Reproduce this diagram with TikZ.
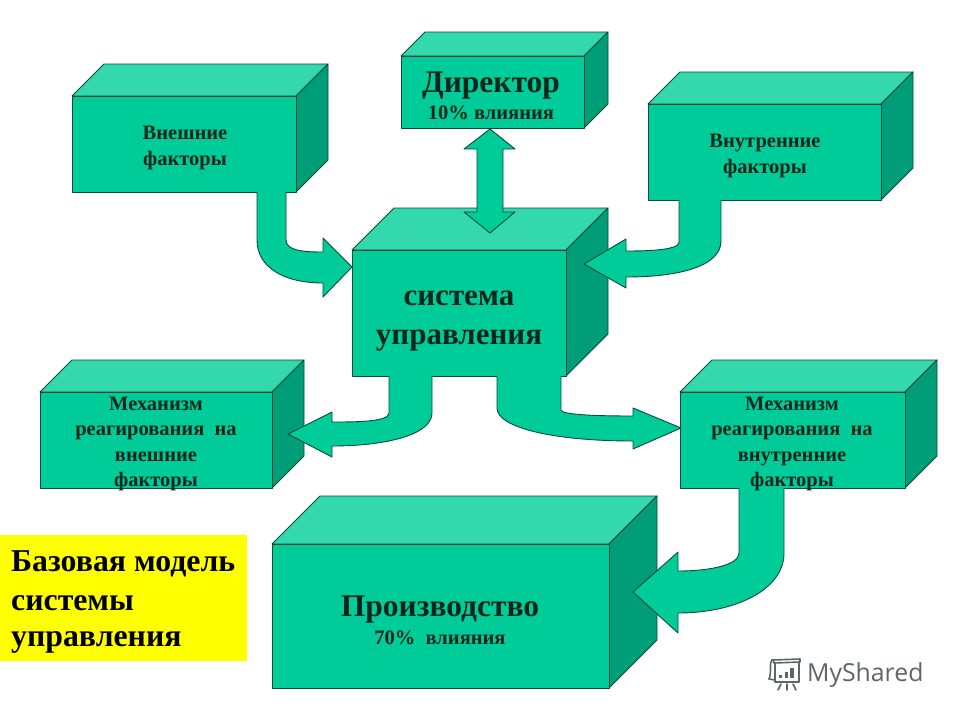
\documentclass[tikz,border=0pt]{standalone}
\usepackage{fontspec}
\setmainfont{Liberation Serif}
\newfontfamily\wmfont{Open Sans}
\definecolor{frontc}{HTML}{00CC99}
\definecolor{topc}{HTML}{33D9AD}
\definecolor{sidec}{HTML}{009E78}
\definecolor{edgec}{HTML}{0B4A3A}
\definecolor{wmc}{HTML}{5F6663}
\definecolor{panelc}{HTML}{FFFF00}
\definecolor{inkc}{HTML}{03261D}
\tikzset{
  faceline/.style={draw=edgec,line width=0.9pt,line join=round},
  frontface/.style={faceline,fill=frontc},
  topface/.style={faceline,fill=topc},
  sideface/.style={faceline,fill=sidec},
  blockarrow/.style={faceline,fill=frontc},
  small/.style={font=\fontsize{20.5}{25.6}\selectfont\bfseries,align=center,text=inkc,inner sep=0pt},
  big/.style={font=\fontsize{31.5}{39}\selectfont\bfseries,align=center,text=inkc,inner sep=0pt},
  caption/.style={font=\fontsize{31.8}{39}\selectfont\bfseries,align=left,text=black,inner sep=0pt,anchor=west},
  wmline/.style={draw=wmc,line width=1.6pt,line cap=round,line join=round},
}
% name, x0, y0, x1, y1, depth
\newcommand{\cuboid}[6]{%
  \fill[topface] (#2,#3) -- (#2+#6,#3-#6) -- (#4+#6,#3-#6) -- (#4,#3) -- cycle;
  \fill[sideface] (#4,#3) -- (#4+#6,#3-#6) -- (#4+#6,#5-#6) -- (#4,#5) -- cycle;
  \draw[frontface] (#2,#3) rectangle (#4,#5);
  \coordinate (#1) at ({(#2+#4)/2},{(#3+#5)/2});
}
\begin{document}
\begin{tikzpicture}[x=1pt,y=-1pt]
\useasboundingbox (0,0) rectangle (960,720);
\fill[white] (0,0) rectangle (960,720);

\cuboid{director}{401}{56}{584}{128}{24}
\cuboid{external}{72}{96}{296}{192}{32}
\cuboid{internal}{648}{104}{881}{200}{32}
\cuboid{system}{352}{250}{566}{376}{42}
\cuboid{mechleft}{40}{392}{272}{488}{32}
\cuboid{mechright}{680}{392}{905}{488}{32}
\cuboid{production}{272}{544}{609}{688}{48}

% block arrows
\draw[blockarrow] (257,192) -- (257,240) .. controls (257,268) and (285,283) .. (323,283)
  -- (323,297) -- (352,267) -- (323,238) -- (323,252)
  .. controls (305,252) and (286,251) .. (286,240) -- (286,192);
\draw[blockarrow] (490,129) -- (515,149) -- (503,149) -- (503,212) -- (515,212) -- (490,233)
  -- (464,212) -- (477,212) -- (477,149) -- (464,149) -- cycle;
\draw[blockarrow] (721,200) -- (721,241) .. controls (721,266) and (680,277) .. (626,277)
  -- (626,288) -- (584,264) -- (626,239) -- (626,251)
  .. controls (650,251) and (679,250) .. (679,242) -- (679,200);
\draw[blockarrow] (432,376) -- (432,413) .. controls (432,435) and (385,446) .. (332,446)
  -- (332,457) -- (288,434) -- (332,412) -- (332,422)
  .. controls (355,422) and (389,422) .. (389,413) -- (389,376);
\draw[blockarrow] (497,376) -- (497,408) .. controls (497,428) and (555,441) .. (633,441)
  -- (633,449) -- (681,428) -- (633,408) -- (633,416)
  .. controls (600,416) and (561,415) .. (561,410) -- (561,376);
\draw[blockarrow] (784,488) -- (784,553) .. controls (784,590) and (735,613) .. (678,613)
  -- (678,633) -- (633,592) -- (678,552) -- (678,571)
  .. controls (710,571) and (739,565) .. (739,553) -- (739,488);

% box labels
\node[big] (l1) at (491,86) {Директор};
\node[small] (l2) at (491,113) {10\% влияния};
\node[small] (l3) at (185,148) {Внешние\\факторы};
\node[small] (l4) at (765,156) {Внутренние\\факторы};
\node[font=\fontsize{31}{39}\selectfont\bfseries,align=center,text=inkc,inner sep=0pt] (l5) at (459,321) {система\\управления};
\node[small] (l6) at (156,444) {Механизм\\реагирования\ \ на\\внешние\\факторы};
\node[small] (l7) at (792,444) {Механизм\\реагирования\ \ на\\внутренние\\факторы};
\node[big] (l8) at (440,610) {Производство};
\node[small] (l9) at (440,638) {70\%\ \ влияния};

% caption panel
\fill[panelc] (0,535) rectangle (247,661);
\node[caption] (cap1) at (11,564) {Базовая модель};
\node[caption] (cap2) at (11,603) {системы};
\node[caption] (cap3) at (11,642) {управления};

% watermark
\node[font=\wmfont\fontsize{24.8}{30}\selectfont,text=wmc,inner sep=0pt,anchor=west] (wm) at (807,675) {MyShared};
\draw[wmline] (772,660) -- (800,659) -- (800,662) -- (774,663) -- (773,660);
\draw[wmline] (775,663) -- (775,682) -- (799,682) -- (799,662);
\draw[wmline] (769,679) .. controls (772,672) and (769,662) .. (772,660);
\draw[wmline] (769,679) -- (775,680);
\draw[wmline] (781,684) -- (778,690);
\draw[wmline] (787,684) -- (787,690);
\draw[wmline] (793,684) -- (796,690);
\fill[wmc] (779,675) rectangle (782,678);
\fill[wmc] (785,672) rectangle (788,678);
\fill[wmc] (790,668) rectangle (794,678);
\end{tikzpicture}
\end{document}
